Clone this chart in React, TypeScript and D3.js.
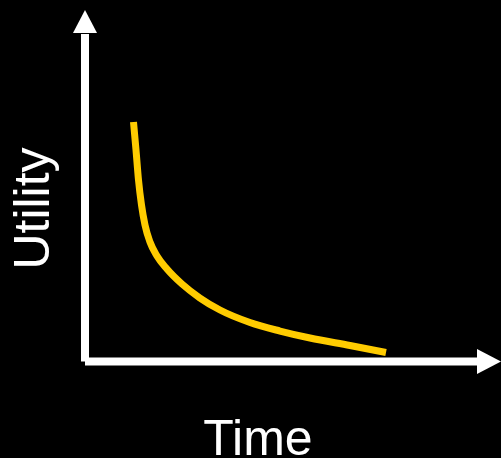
import React from "react";
import * as d3 from "d3";

const timeValues = [12.125, 12.75, 13.375, 14.125, 15.0, 16.25, 18.0, 20.5, 24.25, 28.75, 33.75, 41.25, 48.75, 56.25, 66.25, 75.25];
const utilityValues = [68.43, 60.43, 51.86, 44.71, 39.0, 34.14, 30.14, 26.43, 22.14, 18.14, 14.71, 11.14, 8.71, 6.71, 4.57, 2.57];
const xLabel = "Time";
const yLabel = "Utility";

const W = 501;
const H = 458;

export default function App() {
  const x = d3.scaleLinear().domain([0, 100]).range([85, 485]);
  const y = d3.scaleLinear().domain([0, 100]).range([361.5, 11.5]);
  const pts: [number, number][] = timeValues.map((t, i) => [t, utilityValues[i]]);
  const line = d3
    .line<[number, number]>()
    .x((d) => x(d[0]))
    .y((d) => y(d[1]))
    .curve(d3.curveMonotoneX);

  const x0 = x(0);
  const y0 = y(0);
  const topTip = 10;
  const topBase = 33;
  const rightTip = 501;
  const rightBase = 477;

  return (
    <svg
      width={W}
      height={H}
      style={{ position: "absolute", left: 0, top: 0, display: "block", background: "#000" }}
    >
      <rect x={0} y={0} width={W} height={H} fill="#000" />
      <line x1={x0} y1={y0} x2={x0} y2={topBase + 1} stroke="#fff" strokeWidth={8} />
      <line x1={x0} y1={y0} x2={rightBase + 1} y2={y0} stroke="#fff" strokeWidth={8} />
      <path
        d={`M${x0},${topTip}L${x0 + 12},${topBase}L${x0 - 12},${topBase}Z`}
        fill="#fff"
      />
      <path
        d={`M${rightTip},${y0}L${rightBase},${y0 - 12.5}L${rightBase},${y0 + 12.5}Z`}
        fill="#fff"
      />
      <path d={line(pts) || ""} fill="none" stroke="#FFCC00" strokeWidth={7} />
      <text
        x={258}
        y={455}
        textAnchor="middle"
        fill="#fff"
        fontFamily="'Liberation Sans', Arial, sans-serif"
        fontSize={50}
      >
        {xLabel}
      </text>
      <text
        transform="translate(49,208.5) rotate(-90)"
        textAnchor="middle"
        fill="#fff"
        fontFamily="'Liberation Sans', Arial, sans-serif"
        fontSize={50}
      >
        {yLabel}
      </text>
    </svg>
  );
}
